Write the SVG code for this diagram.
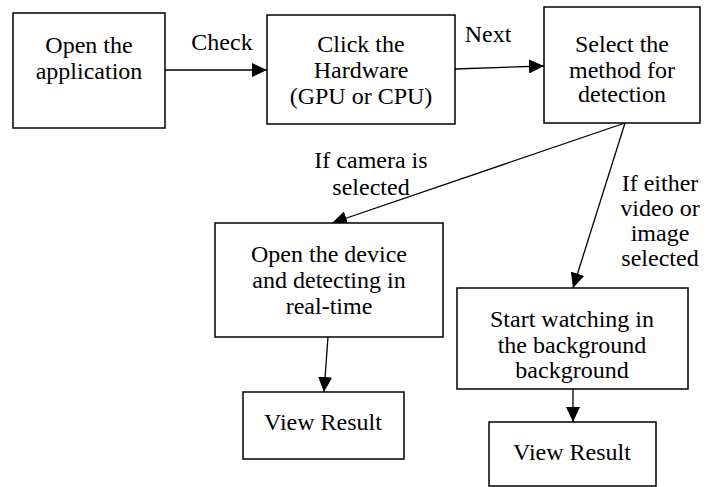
<svg xmlns="http://www.w3.org/2000/svg" width="718" height="487" viewBox="0 0 718 487">
<defs>
<style>
.box{fill:#fff;stroke:#000;stroke-width:1.5}
text{font-family:'Liberation Serif','Times New Roman',serif;font-size:24px;fill:#000;text-anchor:middle}
.e{stroke:#000;stroke-width:1.3;fill:none;marker-end:url(#ah)}
</style>
<marker id="ah" markerUnits="userSpaceOnUse" markerWidth="16" markerHeight="14" refX="15" refY="7" orient="auto">
<path d="M0,0 L15,7 L0,14 Z" fill="#000"/>
</marker>
</defs>
<rect width="718" height="487" fill="#fff"/>
<g id="connectors">
<line class="e" x1="165" y1="70" x2="267" y2="70"/>
<line class="e" x1="455" y1="69" x2="544" y2="66"/>
<line class="e" x1="625" y1="123" x2="332" y2="223"/>
<line class="e" x1="625" y1="123" x2="573" y2="288"/>
<line class="e" x1="328" y1="337" x2="324" y2="392"/>
<line class="e" x1="573" y1="389" x2="573" y2="422"/>
</g>
<g id="labels">
<text x="222" y="50">Check</text>
<text x="488" y="42">Next</text>
<text x="371" y="168">If camera is</text>
<text x="371" y="195">selected</text>
<text x="660" y="191">If either</text>
<text x="660" y="216">video or</text>
<text x="660" y="241">image</text>
<text x="660" y="266">selected</text>
</g>
<g id="n1">
<rect class="box" x="13" y="13" width="152" height="115"/>
<text x="89" y="53">Open the</text>
<text x="89" y="79">application</text>
</g>
<g id="n2">
<rect class="box" x="267" y="15" width="188" height="109"/>
<text x="361" y="52">Click the</text>
<text x="361" y="78">Hardware</text>
<text x="361" y="104">(GPU or CPU)</text>
</g>
<g id="n3">
<rect class="box" x="544" y="7" width="156" height="116"/>
<text x="622" y="52">Select the</text>
<text x="622" y="78">method for</text>
<text x="622" y="102">detection</text>
</g>
<g id="n4">
<rect class="box" x="215" y="223" width="228" height="114"/>
<text x="329" y="262">Open the device</text>
<text x="329" y="288">and detecting in</text>
<text x="329" y="314">real-time</text>
</g>
<g id="n5">
<rect class="box" x="457" y="288" width="231" height="101"/>
<text x="572" y="327">Start watching in</text>
<text x="572" y="353">the background</text>
<text x="572" y="378">background</text>
</g>
<g id="n6">
<rect class="box" x="243" y="392" width="161" height="67"/>
<text x="323" y="430">View Result</text>
</g>
<g id="n7">
<rect class="box" x="489" y="422" width="167" height="64"/>
<text x="572" y="460">View Result</text>
</g>
</svg>
